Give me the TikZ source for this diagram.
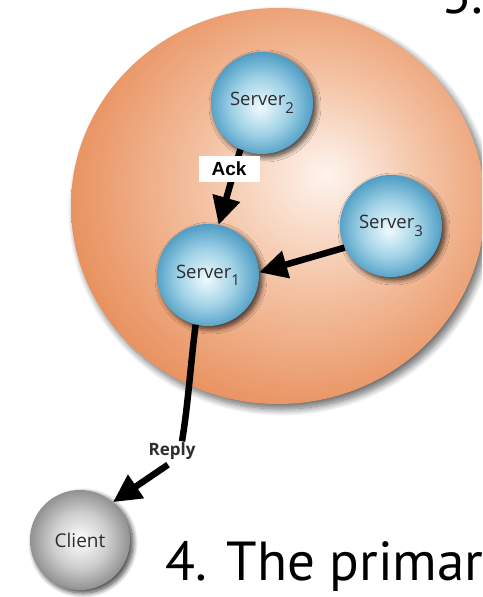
\documentclass[tikz,border=0pt]{standalone}
\usepackage{fontspec}
\setmainfont{PT Sans}
\newfontfamily\labelfont{Open Sans}
\newfontfamily\ackfont{Liberation Sans}
\usetikzlibrary{arrows.meta,shapes.geometric,shadows.blur}

\definecolor{orangerim}{RGB}{233,146,96}
\definecolor{orangemid}{RGB}{244,196,166}
\definecolor{orangecore}{RGB}{254,244,238}
\definecolor{bluerim}{RGB}{78,156,196}
\definecolor{bluemid}{RGB}{160,210,230}
\definecolor{bluecore}{RGB}{240,250,253}
\definecolor{greyrim}{RGB}{140,140,140}
\definecolor{greymid}{RGB}{205,205,205}
\definecolor{labelgray}{RGB}{45,45,50}

% soft highlight slightly up and to the right of the group's centre
\pgfdeclareradialshading{orangeglow}{\pgfpoint{6bp}{4bp}}{%
  color(0bp)=(orangecore); color(13bp)=(orangemid);
  color(28bp)=(orangerim); color(50bp)=(orangerim)}
\pgfdeclareradialshading{blueball}{\pgfpoint{-1bp}{-2bp}}{%
  color(0bp)=(bluecore); color(14bp)=(bluemid);
  color(26bp)=(bluerim); color(50bp)=(bluerim)}
\pgfdeclareradialshading{greyball}{\pgfpoint{0bp}{0bp}}{%
  color(0bp)=(white); color(14bp)=(greymid);
  color(26bp)=(greyrim); color(50bp)=(greyrim)}

\newcommand\lowidx[1]{\raisebox{-0.4em}{\fontsize{15}{15}\selectfont #1}}

\tikzset{
  softshadow/.style={blur shadow={shadow xshift=3pt, shadow yshift=-3pt,
      shadow opacity=75, shadow blur steps=10, shadow blur radius=5pt}},
  server/.style={circle, inner sep=0pt, minimum size=102pt, shading=blueball,
      softshadow, text=labelgray, font=\labelfont\fontsize{18.5}{18.5}\selectfont},
  client/.style={circle, inner sep=0pt, minimum size=100pt, shading=greyball,
      softshadow, text=labelgray, font=\labelfont\fontsize{19}{19}\selectfont},
  conn/.style={line width=6.5pt, draw=black,
      -{Triangle[length=28pt,width=27pt]}},
  plainconn/.style={line width=6.5pt, draw=black},
  acklabel/.style={fill=white, inner xsep=0pt, inner ysep=0pt,
      minimum width=61pt, minimum height=26pt,
      font=\ackfont\bfseries\fontsize{19}{19}\selectfont},
  replylabel/.style={inner sep=1pt, text=labelgray,
      font=\labelfont\bfseries\fontsize{17}{17}\selectfont},
  caption/.style={anchor=base west, inner sep=0pt, text=black,
      font=\fontsize{55}{55}\selectfont}
}

\begin{document}
\begin{tikzpicture}[x=1pt,y=-1pt]
\useasboundingbox (0,0) rectangle (482,597);
\clip (0,0) rectangle (482,597);

% replica group
\node[ellipse, inner sep=0pt, minimum width=414pt, minimum height=396pt,
      shading=orangeglow,
      blur shadow={shadow xshift=4pt, shadow yshift=-5pt, shadow opacity=60,
                   shadow blur steps=12, shadow blur radius=7pt}]
      (group) at (278,206) {};

\node[server] (s2) at (262,103) {Server\lowidx{2}};
\node[server] (s3) at (391,226) {Server\lowidx{3}};
\node[server] (s1) at (208,275) {Server\lowidx{1}};
\node[client] (client) at (80,540) {Client};

% acknowledgement from Server2
\draw[conn] (s2.-115) -- (s1.78);
\node[acklabel] (ack) at (229,169) {Ack};

% Server3 forwards to Server1
\draw[conn] (s3.205) -- (s1.3);

% reply to the client
\node[replylabel] (reply) at (172,451) {Reply};
\draw[plainconn] (s1.256) .. controls (190,370) and (188,405) .. ([xshift=10pt]reply.north);
\draw[conn] ([shift={(-4,4)}]reply.south) -- (client.49);

% step captions
\node[caption] (cap3) at (441,13) {3.};
\node[caption] (cap4) at (165,580) {4. The primary};
\end{tikzpicture}
\end{document}
